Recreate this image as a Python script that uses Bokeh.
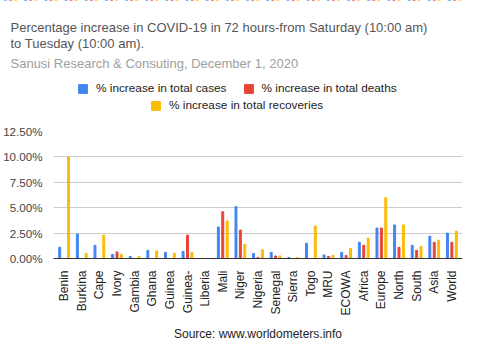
from bokeh.plotting import figure
from bokeh.models import (ColumnDataSource, FactorRange, Legend, LegendItem, Label, Title,
                          PrintfTickFormatter, FixedTicker, Range1d)
from bokeh.transform import dodge
from bokeh.embed import file_html
from bokeh.resources import INLINE

categories = ["Benin", "Burkina", "Cape", "Ivory", "Gambia", "Ghana", "Guinea", "Guinea-",
              "Liberia", "Mali", "Niger", "Nigeria", "Senegal", "Sierra", "Togo", "MRU",
              "ECOWA", "Africa", "Europe", "North", "South", "Asia", "World"]
cases = [1.1, 2.4, 1.3, 0.4, 0.2, 0.8, 0.6, 0.7, 0.0, 3.1, 5.1, 0.5, 0.6, 0.1, 1.5, 0.35,
         0.6, 1.6, 3.0, 3.3, 1.3, 2.2, 2.5]
deaths = [0.0, 0.0, 0.0, 0.65, 0.0, 0.0, 0.0, 2.3, 0.0, 4.6, 2.8, 0.1, 0.25, 0.0, 0.0, 0.2,
          0.3, 1.3, 3.0, 1.1, 0.8, 1.6, 1.6]
recoveries = [10.0, 0.5, 2.3, 0.4, 0.2, 0.75, 0.5, 0.6, 0.0, 3.7, 1.4, 0.85, 0.25, 0.1, 3.2,
              0.3, 1.0, 2.0, 6.0, 3.3, 1.2, 1.8, 2.7]
series_names = ["% increase in total cases", "% increase in total deaths",
                "% increase in total recoveries"]
series_colors = ["#4285F4", "#EA4335", "#FBBC04"]
y_ticks = [0, 2.5, 5, 7.5, 10, 12.5]
title_lines = ["Percentage increase in COVID-19 in 72 hours-from Saturday (10:00 am)",
               "to Tuesday (10:00 am)."]
subtitle = "Sanusi Research & Consuting, December 1, 2020"
source_note = "Source: www.worldometers.info"

FONT = "Liberation Sans"

src = ColumnDataSource(data=dict(cat=categories, cases=cases, deaths=deaths, rec=recoveries))
cols = ["cases", "deaths", "rec"]
offsets = [-0.25, 0.0, 0.25]

# ---------------- header (titles + legend) ----------------
hdr = figure(width=464, height=123, x_range=FactorRange(*categories),
             y_range=Range1d(-2, -1), output_backend="svg", toolbar_location=None,
             x_axis_location=None, y_axis_location=None,
             min_border=0, min_border_left=0, min_border_right=0,
             min_border_top=0, min_border_bottom=0)
hdr.grid.visible = False
hdr.outline_line_color = None

for txt, yy, size, col in [(title_lines[0], 96, "13px", "#555555"),
                           (title_lines[1], 80, "13px", "#555555"),
                           (subtitle, 60, "13px", "#9e9e9e")]:
    hdr.add_layout(Label(x=10, y=yy, x_units="screen", y_units="screen", text=txt,
                         text_font=FONT, text_font_size=size, text_color=col,
                         text_baseline="middle"))

# legend swatches come from the series themselves (drawn outside the header's view)
hr = [hdr.vbar(x=dodge("cat", o, range=hdr.x_range), top=c, width=0.11, source=src,
               color=clr) for o, c, clr in zip(offsets, cols, series_colors)]

leg1 = Legend(items=[LegendItem(label=series_names[0], renderers=[hr[0]]),
                     LegendItem(label=series_names[1], renderers=[hr[1]])],
              orientation="horizontal", location=(77, 28), spacing=16)
leg2 = Legend(items=[LegendItem(label=series_names[2], renderers=[hr[2]])],
              orientation="horizontal", location=(150, 11))
for lg in (leg1, leg2):
    lg.border_line_alpha = 0
    lg.background_fill_alpha = 0
    lg.label_text_font = FONT
    lg.label_text_font_size = "11.8px"
    lg.label_text_color = "#222222"
    lg.glyph_width = 11
    lg.glyph_height = 11
    lg.padding = 0
    lg.margin = 0
    lg.label_standoff = 8
    lg.label_height = 12
    hdr.add_layout(lg)

# ---------------- main chart ----------------
p = figure(width=468, height=229, x_range=FactorRange(*categories, range_padding=0.009),
           y_range=(0, 12.5), output_backend="svg", toolbar_location=None,
           min_border_left=49, min_border_right=6, min_border_top=8, min_border_bottom=94)
p.outline_line_color = None

for o, c, clr in zip(offsets, cols, series_colors):
    p.vbar(x=dodge("cat", o, range=p.x_range), top=c, width=0.11, source=src, color=clr)

p.yaxis.ticker = FixedTicker(ticks=y_ticks)
p.yaxis.formatter = PrintfTickFormatter(format="%.2f%%")
p.yaxis.axis_line_color = None
p.yaxis.major_tick_line_color = None
p.yaxis.minor_tick_line_color = None
p.yaxis.major_label_text_font = FONT
p.yaxis.major_label_text_font_size = "11.6px"
p.yaxis.major_label_text_color = "#444444"
p.yaxis.major_label_standoff = 5

p.xaxis.major_label_orientation = 1.5708
p.xaxis.major_tick_line_color = None
p.xaxis.minor_tick_line_color = None
p.xaxis.axis_line_color = "#333333"
p.xaxis.major_label_text_font = FONT
p.xaxis.major_label_text_font_size = "12px"
p.xaxis.major_label_text_color = "#222222"
p.xaxis.major_label_standoff = 6

p.xgrid.grid_line_color = None
p.ygrid.grid_line_color = "#cccccc"
p.ygrid.ticker = FixedTicker(ticks=y_ticks)

p.add_layout(Title(text=source_note, align="center", text_font=FONT, text_font_size="12px",
                   text_font_style="normal", text_color="#222222", standoff=12), "below")

# two separate roots, stacked on the page (keeps the header's frame unaligned)
open("out.html", "w").write(file_html([hdr, p], INLINE))
